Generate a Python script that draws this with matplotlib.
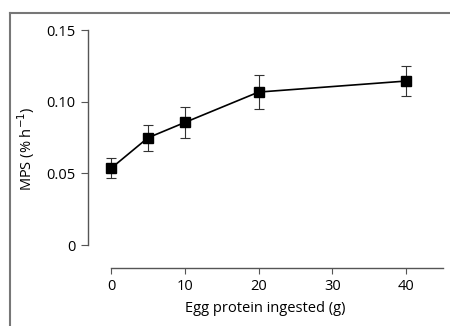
import matplotlib
matplotlib.use('Agg')
import matplotlib.pyplot as plt
from matplotlib.lines import Line2D

# Egg protein dose response data
protein = [0, 5, 10, 20, 40]
mps = [0.0535, 0.0748, 0.0855, 0.1067, 0.1144]
mps_err = [0.007, 0.009, 0.0105, 0.0118, 0.0105]

x_ticks = [0, 10, 20, 30, 40]
y_ticks = [0, 0.05, 0.10, 0.15]
y_tick_labels = ['0', '0.05', '0.10', '0.15']

plt.rcParams['font.family'] = ['Open Sans', 'DejaVu Sans']

fig = plt.figure(figsize=(4.5, 3.26), dpi=100)
ax = fig.add_axes([88 / 450, (326 - 268) / 326, (443 - 88) / 450, (268 - 30) / 326])

ax.errorbar(protein, mps, yerr=mps_err, color='black', marker='s', markersize=7,
            linewidth=1.2, ecolor='#333333', elinewidth=0.8, capsize=3.5, capthick=0.8)

ax.set_xlim(-3.12, 45)
ax.set_ylim(-0.016, 0.15)

for side in ['top', 'right']:
    ax.spines[side].set_visible(False)
ax.spines['left'].set_bounds(0, 0.15)
ax.spines['bottom'].set_bounds(0, 45)
for side in ['left', 'bottom']:
    ax.spines[side].set_color('#555555')
    ax.spines[side].set_linewidth(1.0)

ax.set_xticks(x_ticks)
ax.set_yticks(y_ticks)
ax.set_yticklabels(y_tick_labels)
ax.tick_params(axis='both', colors='#555555', labelcolor='black', labelsize=10.5, width=0.8)
ax.tick_params(axis='y', length=5, pad=4)
ax.tick_params(axis='x', length=4, pad=4)

ax.set_xlabel('Egg protein ingested (g)', fontsize=10.5, labelpad=5)
ax.set_ylabel('MPS (% h$^{-1}$)', fontsize=10.5, labelpad=7)

# outer frame of the original panel (top and left edges)
fig.add_artist(Line2D([9.5 / 450, 9.5 / 450], [0, 1 - 12.5 / 326], transform=fig.transFigure,
                      color='#777777', linewidth=1.5))
fig.add_artist(Line2D([9.5 / 450, 1], [1 - 12.5 / 326, 1 - 12.5 / 326], transform=fig.transFigure,
                      color='#777777', linewidth=1.5))

fig.savefig('out.png', dpi=100)
